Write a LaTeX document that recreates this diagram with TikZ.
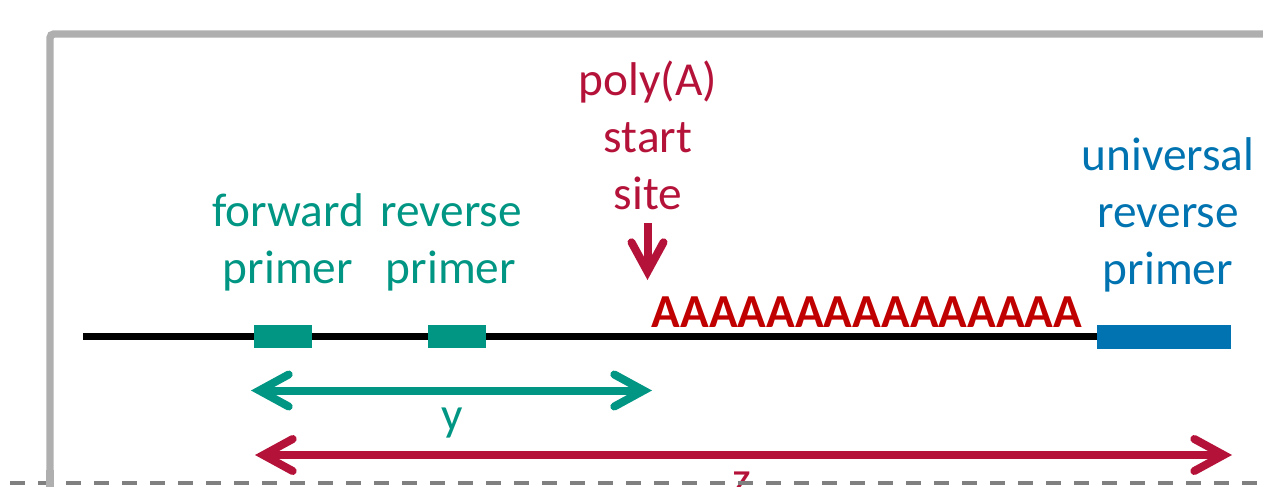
\documentclass[tikz,border=0pt]{standalone}
\usepackage{fontspec}
\setmainfont{Carlito}
\usetikzlibrary{arrows.meta}
\definecolor{pgreen}{HTML}{009683}
\definecolor{pblue}{HTML}{0073B0}
\definecolor{pred}{HTML}{B51239}
\definecolor{ared}{HTML}{C00000}
\definecolor{framegray}{HTML}{AFAFAF}
\definecolor{dgray}{HTML}{808080}
\tikzset{
  lbl/.style={font=\fontsize{35.5}{42.75}\selectfont, align=center, inner sep=0pt, anchor=base},
  primerbox/.style={fill=pgreen, draw=none},
  chev/.style={line width=6pt, -{Straight Barb[length=22pt,width=24pt,line cap=round]}},
  dchev/.style={line width=6pt, {Straight Barb[length=22pt,width=24pt,line cap=round]}-{Straight Barb[length=22pt,width=24pt,line cap=round]}},
}
\begin{document}
\begin{tikzpicture}[x=0.75pt,y=-0.75pt]
\useasboundingbox (0,0) rectangle (1263,486);
% frame
\draw[framegray, line width=5.6pt, rounded corners=3pt] (50,520) -- (50,34) -- (1300,34);
% DNA line
\draw[black, line width=5.6pt] (83,336.5) -- (1097,336.5);
\node[primerbox, minimum width=43.5pt, minimum height=17.25pt, inner sep=0pt] (fwd) at (283,336.7) {};
\node[primerbox, minimum width=43.5pt, minimum height=17.25pt, inner sep=0pt] (rev) at (457,336.7) {};
\node[fill=pblue, minimum width=100.5pt, minimum height=18pt, inner sep=0pt] (uni) at (1164,337) {};
% labels
\node[lbl, text=pgreen] (fwdl) at (288,283) {forward\\primer};
\node[lbl, text=pgreen] (revl) at (451,283) {reverse\\primer};
\node[lbl, text=pblue] (unil) at (1168,284) {universal\\reverse\\primer};
\node[lbl, text=pred] (polyl) at (648,209) {poly(A)\\start\\site};
\node[lbl, text=ared, font=\fontsize{35.5}{42.75}\selectfont\bfseries] (polyA) at (867,327) {AAAAAAAAAAAAAAA};
% poly(A) arrow
\coordinate (pa1) at (647.5,223);
\coordinate (pa2) at (647.5,280);
\draw[pred, chev] (pa1) -- (pa2);
% y arrow
\coordinate (y1) at (251,390.5);
\coordinate (y2) at (652,390.5);
\draw[pgreen, dchev] (y1) -- (y2);
\node[lbl, text=pgreen] (ylab) at (452,430) {y};
% z arrow
\coordinate (z1) at (255,455);
\coordinate (z2) at (1232,455);
\draw[pred, dchev] (z1) -- (z2);
\node[lbl, text=pred] (zlab) at (742,494) {z};
% bottom dashed line
\draw[dgray, line width=3pt, dash pattern=on 11.25pt off 9.75pt] (10,482.5) -- (1263,482.5);
\draw[framegray, line width=5.6pt] (50,470) -- (50,520);
\end{tikzpicture}
\end{document}
